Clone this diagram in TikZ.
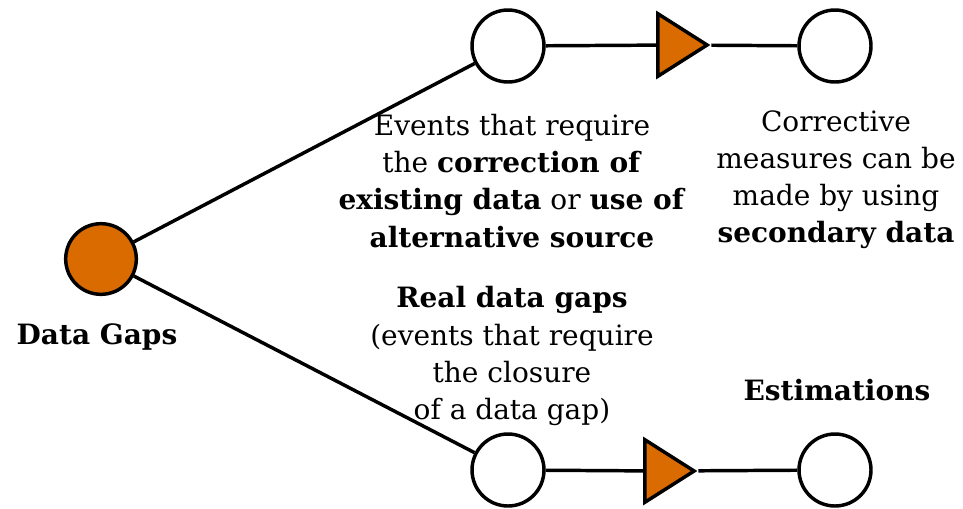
\documentclass[tikz,border=0pt]{standalone}
\usepackage{fontspec}
\setmainfont{DejaVu Serif}
\usepackage{tikz}
\usetikzlibrary{shapes,arrows,shapes.geometric,positioning}
\definecolor{gaporange}{RGB}{217,107,0}

\begin{document}
\begin{tikzpicture}[x=0.75pt, y=-0.75pt]
			\tikzstyle{Event}	= [circle, draw, line width=2.6pt, fill=white, minimum size=54pt, inner sep=0pt]
			\tikzstyle{Root}	= [Event, fill=gaporange, minimum size=53pt]
			\tikzstyle{Step}	= [isosceles triangle, isosceles triangle stretches, draw, line width=2.6pt, fill=gaporange, minimum width=47pt, minimum height=37pt, inner sep=0pt]
			\tikzstyle{Label}	= [align=center, font=\fontsize{21}{27.8}\selectfont, inner sep=0pt]
			\tikzstyle{Link}	= [line width=2.6pt]
			
			\useasboundingbox (0, 0) rectangle (963, 508);
			
			\node (gaps) at (101, 259) [Root] {};
			\node (corr) at (508, 46) [Event] {};
			\node (corrstep) at (675, 45) [Step] {};
			\node (meas) at (835, 46) [Event] {};
			\node (real) at (508, 470) [Event] {};
			\node (realstep) at (662, 471) [Step] {};
			\node (est) at (835, 470) [Event] {};
			
			\draw [-] (gaps) to (corr) [Link];
			\draw [-] (gaps) to (real) [Link];
			\draw [-] (corr) to (corrstep) [Link];
			\draw [-] (corrstep) to (meas) [Link];
			\draw [-] (real) to (realstep) [Link];
			\draw [-] (realstep) to (est) [Link];
			
			\node (gapstext) at (97, 337) [Label] {\textbf{Data Gaps}};
			\node (corrtext) at (512, 181) [Label] {Events that require\\the \textbf{correction of}\\\textbf{existing data} or \textbf{use of}\\\textbf{alternative source}};
			\node (meastext) at (836, 180) [Label] {Corrective\\measures can be\\made by using\\\textbf{secondary data}};
			\node (realtext) at (512, 356) [Label] {\textbf{Real data gaps}\\(events that require\\the closure\\of a data gap)};
			\node (esttext) at (837, 390) [Label] {\textbf{Estimations}};
		\end{tikzpicture}
\end{document}
